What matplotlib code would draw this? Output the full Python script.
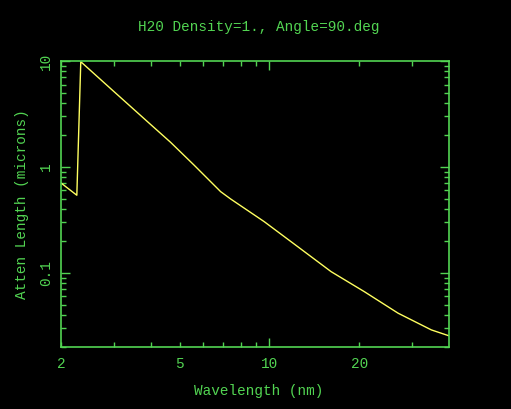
#!/usr/bin/env python3
"""
Attenuation length of water vs wavelength (log-log), dark terminal style
"""

import matplotlib
matplotlib.use('Agg')
import matplotlib.pyplot as plt
from matplotlib.ticker import FixedLocator, FuncFormatter, NullFormatter

# values (nm, microns)
wavelength = [2.0, 2.26, 2.33, 3.0, 4.0, 4.66, 5.58, 6.86, 7.41, 9.6,
              12.44, 16.1, 20.8, 27.0, 34.9, 40.0]
atten_length = [0.706, 0.541, 9.85, 5.19, 2.51, 1.71, 1.045, 0.585, 0.499, 0.305,
                0.177, 0.1028, 0.0666, 0.0417, 0.029, 0.0255]

x_major = [10]
x_minor = [2, 3, 4, 5, 6, 7, 8, 9, 20, 30]
x_labelled = [2, 5, 20]
y_major = [0.1, 1, 10]
y_major_labels = ['0.1', '1', '10']
y_minor = [0.02, 0.03, 0.04, 0.05, 0.06, 0.07, 0.08, 0.09,
           0.2, 0.3, 0.4, 0.5, 0.6, 0.7, 0.8, 0.9,
           2, 3, 4, 5, 6, 7, 8, 9]

title = 'H20 Density=1., Angle=90.deg'
xlabel = 'Wavelength (nm)'
ylabel = 'Atten Length (microns)'

GREEN = '#52d452'
YELLOW = '#ffff60'
FONT = 'Liberation Mono'
FS = 10.4


def main():
    fig = plt.figure(figsize=(5.11, 4.09), dpi=100, facecolor='black')
    ax = fig.add_axes([61 / 511, 1 - 347 / 409, 388 / 511, 286 / 409])
    ax.set_facecolor('black')

    ax.plot(wavelength, atten_length, color=YELLOW, linewidth=1.0)

    ax.set_xscale('log')
    ax.set_yscale('log')
    ax.set_xlim(2, 40)
    ax.set_ylim(0.02, 10)

    for sp in ax.spines.values():
        sp.set_color(GREEN)
        sp.set_linewidth(1.2)

    ax.xaxis.set_major_locator(FixedLocator(x_major))
    ax.xaxis.set_minor_locator(FixedLocator(x_minor))
    ax.xaxis.set_major_formatter(FuncFormatter(lambda v, p: '%g' % v))
    ax.xaxis.set_minor_formatter(
        FuncFormatter(lambda v, p: ('%g' % v) if round(v) in x_labelled else ''))

    ax.yaxis.set_major_locator(FixedLocator(y_major))
    ax.yaxis.set_minor_locator(FixedLocator(y_minor))
    ax.yaxis.set_major_formatter(FuncFormatter(
        lambda v, p: y_major_labels[y_major.index(min(y_major, key=lambda m: abs(m - v)))]))
    ax.yaxis.set_minor_formatter(NullFormatter())

    ax.tick_params(which='both', direction='in', top=True, right=True,
                   colors=GREEN, width=1.0)
    ax.tick_params(which='major', length=6.5)
    ax.tick_params(which='minor', length=3.5)
    ax.tick_params(axis='x', which='both', pad=7)
    ax.tick_params(axis='y', which='both', pad=6)

    for lbl in ax.get_xticklabels(which='both'):
        lbl.set_fontfamily(FONT)
        lbl.set_fontsize(FS)
        lbl.set_color(GREEN)
    for lbl in ax.get_yticklabels(which='both'):
        lbl.set_fontfamily(FONT)
        lbl.set_fontsize(FS)
        lbl.set_color(GREEN)
        lbl.set_rotation(90)
        lbl.set_va('center')

    fig.text(259 / 511, 1 - 27 / 409, title, color=GREEN, family=FONT,
             fontsize=FS, ha='center', va='center')
    fig.text(259 / 511, 1 - 391 / 409, xlabel, color=GREEN, family=FONT,
             fontsize=FS, ha='center', va='center')
    fig.text(22 / 511, 1 - 204 / 409, ylabel, color=GREEN, family=FONT,
             fontsize=FS, ha='center', va='center', rotation=90)

    fig.savefig('out.png', dpi=100, facecolor='black')
    plt.close(fig)


if __name__ == "__main__":
    main()
